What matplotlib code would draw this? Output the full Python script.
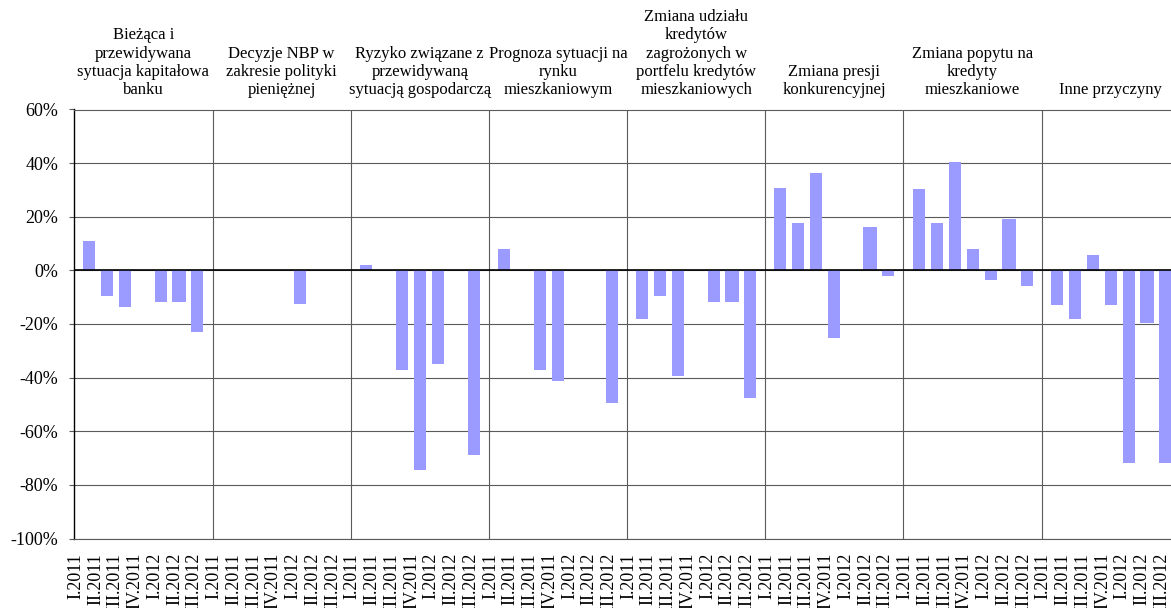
import numpy as np
import matplotlib
matplotlib.use("Agg")
import matplotlib.pyplot as plt
import matplotlib.transforms as mtransforms

plt.rcParams['font.family'] = ['Liberation Serif', 'DejaVu Serif']

# Factor groups shown along the axis
categories = [
    "Bieżąca i\nprzewidywana\nsytuacja kapitałowa\nbanku",
    "Decyzje NBP w\nzakresie polityki\npieniężnej",
    "Ryzyko związane z\nprzewidywaną\nsytuacją gospodarczą",
    "Prognoza sytuacji na\nrynku\nmieszkaniowym",
    "Zmiana udziału\nkredytów\nzagrożonych w\nportfelu kredytów\nmieszkaniowych",
    "Zmiana presji\nkonkurencyjnej",
    "Zmiana popytu na\nkredyty\nmieszkaniowe",
    "Inne przyczyny",
]

# Survey quarters (one bar per quarter inside each group)
quarters = ["I.2011", "II.2011", "III.2011", "IV.2011", "I.2012", "II.2012", "III.2012"]

nan = np.nan
# Net percentage per factor group, one list per quarter (nan = no answer)
q1_2011 = [10.9, nan, 1.9, 8.1, -18.3, 30.6, 30.5, -12.8]
q2_2011 = [-9.6, nan, nan, nan, -9.6, 17.5, 17.5, -18.3]
q3_2011 = [-13.7, nan, -37.2, -37.2, -39.4, 36.4, 40.5, 5.8]
q4_2011 = [nan, nan, -74.3, -41.3, nan, -25.1, 8.0, -13.1]
q1_2012 = [-11.7, -12.7, -34.8, nan, -11.7, nan, -3.5, -71.8]
q2_2012 = [-11.8, nan, nan, nan, -11.8, 16.3, 19.0, -19.8]
q3_2012 = [-23.1, nan, -68.8, -49.4, -47.5, -2.0, -5.8, -71.9]

series = [q1_2011, q2_2011, q3_2011, q4_2011, q1_2012, q2_2012, q3_2012]
yticks = [-100, -80, -60, -40, -20, 0, 20, 40, 60]

W, H = 1171, 608
fig = plt.figure(figsize=(W / 100, H / 100), dpi=100)
ax = fig.add_axes([74.3 / W, 1 - 538.5 / H, 1105.6 / W, 429 / H])

n_groups = len(categories)
n_q = len(quarters)
group_px = 138.2
pitch = 18 / group_px
bar_w = 12 / group_px
bar_color = '#9B9BFF'
grid_color = '#5a5a5a'

for k, vals in enumerate(series):
    x = np.arange(n_groups) + (1 - n_q * pitch) / 2 + pitch * (k + 0.5)
    w = bar_w * (14 / 12 if k == 5 else 1)
    ax.bar(x, np.array(vals, dtype=float), width=w, color=bar_color,
           edgecolor='none', zorder=3)

ax.set_xlim(0, n_groups)
ax.set_ylim(yticks[0], yticks[-1])

# Horizontal grid and zero line
ax.set_yticks(yticks)
ax.set_yticklabels([f"{v}%" for v in yticks])
ax.yaxis.grid(True, color=grid_color, lw=0.8, zorder=1)
ax.axhline(0, color='black', lw=1.2, zorder=4)

# Group separators
for g in range(1, n_groups):
    ax.axvline(g, color=grid_color, lw=0.8, zorder=1)

for side in ['right']:
    ax.spines[side].set_visible(False)
ax.spines['left'].set_color('black')
ax.spines['left'].set_linewidth(1.0)
ax.spines['top'].set_color(grid_color)
ax.spines['top'].set_linewidth(0.8)
ax.spines['bottom'].set_color(grid_color)
ax.spines['bottom'].set_linewidth(0.8)

ax.tick_params(axis='y', length=3.6, width=0.8, color=grid_color,
               labelsize=13, pad=8, labelcolor='black')

# Quarter labels under every bar slot
xpos = (np.arange(n_groups)[:, None] + np.arange(n_q)[None, :] / n_q + 0.011).ravel()
ax.set_xticks(xpos)
ax.set_xticklabels(quarters * n_groups, rotation=90, fontsize=13)
ax.tick_params(axis='x', length=0, pad=10.4)

# Group titles above the plot
head_tr = mtransforms.offset_copy(
    mtransforms.blended_transform_factory(ax.transData, ax.transAxes),
    fig=fig, x=0, y=11, units='dots')
for g, name in enumerate(categories):
    ax.text(g + 0.5, 1, name, transform=head_tr, ha='center', va='bottom',
            multialignment='center', fontsize=12, clip_on=False)

fig.savefig('out.png', dpi=100)
